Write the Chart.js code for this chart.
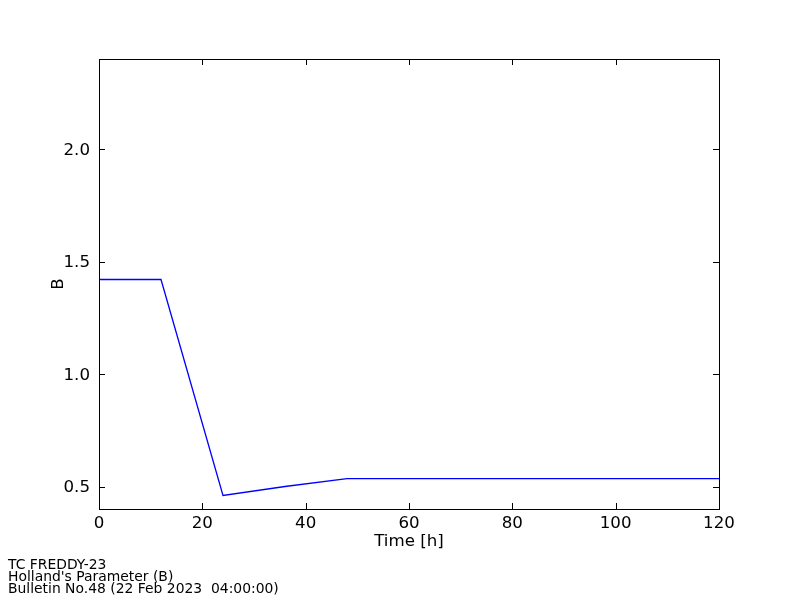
<!DOCTYPE html>
<html>
<head>
<meta charset="utf-8">
<script src="https://cdn.jsdelivr.net/npm/chart.js@4/dist/chart.umd.min.js"></script>
<style>
html,body{margin:0;padding:0;background:#fff;}
#wrap{position:relative;width:800px;height:600px;}
#footer{position:absolute;left:8px;top:558px;font-family:"DejaVu Sans",sans-serif;font-size:13.9px;line-height:12px;color:#000;white-space:pre;}
</style>
</head>
<body>
<div id="wrap">
<canvas id="c" width="800" height="600"></canvas>
<div id="footer">TC FREDDY-23
Holland's Parameter (B)
Bulletin No.48 (22 Feb 2023  04:00:00)</div>
</div>
<script>
const hours = [0, 12, 24, 36, 48, 60, 72, 84, 96, 108, 120];
const bValues = [1.42, 1.42, 0.46, 0.50, 0.535, 0.535, 0.535, 0.535, 0.535, 0.535, 0.535];
const xTicks = [0, 20, 40, 60, 80, 100, 120];
const yTicks = [0.5, 1.0, 1.5, 2.0];

const FONT = {family: "'DejaVu Sans', sans-serif", size: 16.67};

const frameTicks = {
  id: 'frameTicks',
  afterDraw(chart) {
    const {ctx, chartArea: a, scales: {x, y}} = chart;
    ctx.save();
    ctx.strokeStyle = '#000';
    ctx.lineWidth = 1;
    const L = 6;
    ctx.beginPath();
    xTicks.forEach(v => {
      const px = Math.round(x.getPixelForValue(v)) + 0.5;
      ctx.moveTo(px, a.bottom); ctx.lineTo(px, a.bottom - L);
      ctx.moveTo(px, a.top); ctx.lineTo(px, a.top + L);
    });
    yTicks.forEach(v => {
      const py = Math.round(y.getPixelForValue(v)) + 0.5;
      ctx.moveTo(a.left, py); ctx.lineTo(a.left + L, py);
      ctx.moveTo(a.right, py); ctx.lineTo(a.right - L, py);
    });
    ctx.stroke();
    ctx.strokeRect(Math.round(a.left) + 0.5, Math.round(a.top) + 0.5, Math.round(a.right - a.left), Math.round(a.bottom - a.top));
    ctx.restore();
  }
};

new Chart(document.getElementById('c'), {
  type: 'line',
  data: {
    labels: hours,
    datasets: [{
      data: hours.map((h, i) => ({x: h, y: bValues[i]})),
      borderColor: '#0000ff',
      borderWidth: 1.3,
      pointRadius: 0,
      fill: false,
      tension: 0
    }]
  },
  options: {
    responsive: false,
    animation: false,
    devicePixelRatio: 1,
    layout: {padding: {top: 59, right: 81, left: 49, bottom: 48}},
    plugins: {legend: {display: false}, tooltip: {enabled: false}},
    scales: {
      x: {
        type: 'linear', min: 0, max: 120,
        afterBuildTicks: s => { s.ticks = xTicks.map(v => ({value: v})); },
        afterFit: s => { s.height = 43; },
        grid: {display: false, drawTicks: false},
        border: {display: false},
        ticks: {color: '#000', font: FONT, padding: 5, maxRotation: 0, callback: v => String(v)},
        title: {display: true, text: 'Time [h]', color: '#000', font: FONT, padding: {top: 0, bottom: 0}}
      },
      y: {
        type: 'linear', min: 0.4, max: 2.4,
        afterBuildTicks: s => { s.ticks = yTicks.map(v => ({value: v})); },
        afterFit: s => { s.width = 50; },
        grid: {display: false, drawTicks: false},
        border: {display: false},
        ticks: {color: '#000', font: FONT, padding: 9, labelOffset: 1.5, callback: v => Number(v).toFixed(1)},
        title: {display: true, text: 'B', color: '#000', font: FONT, padding: {top: 0, bottom: 0}}
      }
    }
  },
  plugins: [frameTicks]
});
</script>
</body>
</html>
